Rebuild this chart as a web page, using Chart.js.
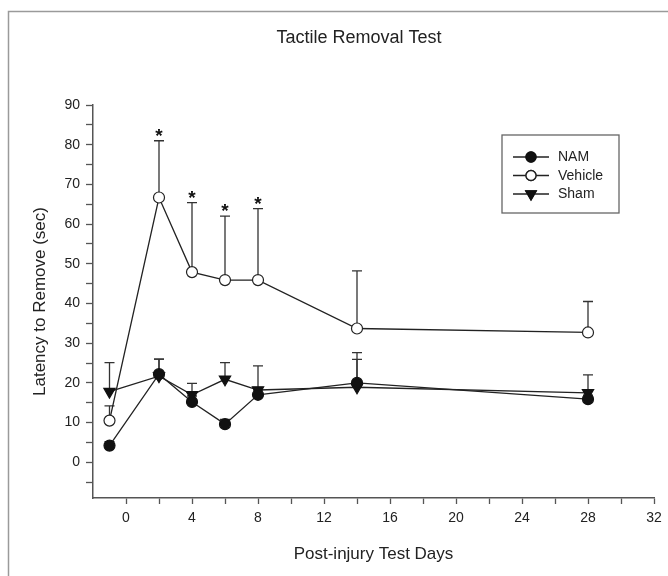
<!DOCTYPE html>
<html>
<head>
<meta charset="utf-8">
<script src="https://cdn.jsdelivr.net/npm/chart.js@4.4.1/dist/chart.umd.min.js"></script>
<style>
  html, body { margin: 0; padding: 0; background: #fff; }
</style>
</head>
<body>
<canvas id="chart" width="668" height="576"></canvas>
<script>
// Datos
const days = [-1, 2, 4, 6, 8, 14, 28];
const namMean = [4.2, 22.2, 15.2, 9.6, 17.0, 20.0, 15.9];
const namErr = [1.0, 3.8, 1.5, 1.2, 1.2, 7.6, 1.0];
const vehicleMean = [10.5, 66.7, 47.9, 45.9, 45.9, 33.7, 32.7];
const vehicleErr = [3.7, 14.3, 17.5, 16.1, 18.0, 14.5, 7.8];
const shamMean = [17.8, 21.7, 17.0, 20.9, 18.2, 18.9, 17.5];
const shamErr = [7.3, 4.3, 2.9, 4.2, 6.1, 7.0, 4.5];
const starDays = [2, 4, 6, 8]; // significativo (Vehicle)

// Marcas de los ejes (las etiquetas solo en los multiplos)
const xTickValues = [0, 2, 4, 6, 8, 10, 12, 14, 16, 18, 20, 22, 24, 26, 28, 30, 32];
const yTickValues = [-5, 0, 5, 10, 15, 20, 25, 30, 35, 40, 45, 50, 55, 60, 65, 70, 75, 80, 85, 90];

const FONT = '"Liberation Sans", Arial, sans-serif';
const INK = '#222';

function toPoints(values) {
    return days.map((d, i) => ({ x: d, y: values[i] }));
}

const errorSets = [namErr, vehicleErr, shamErr];

// Barras de error (solo hacia arriba) y asteriscos
const errorBarPlugin = {
    id: 'errorBars',
    beforeDatasetsDraw(chart) {
        const { ctx, scales: { x, y } } = chart;
        ctx.save();
        ctx.strokeStyle = '#333';
        ctx.lineWidth = 1.3;
        chart.data.datasets.forEach((ds, di) => {
            const errs = errorSets[di];
            ds.data.forEach((p, i) => {
                const px = x.getPixelForValue(p.x);
                const y0 = y.getPixelForValue(p.y);
                const y1 = y.getPixelForValue(p.y + errs[i]);
                ctx.beginPath();
                ctx.moveTo(px, y0);
                ctx.lineTo(px, y1);
                ctx.moveTo(px - 5, y1);
                ctx.lineTo(px + 5, y1);
                ctx.stroke();
            });
        });
        // asteriscos sobre Vehicle
        ctx.fillStyle = '#111';
        ctx.font = 'bold 19px ' + FONT;
        ctx.textAlign = 'center';
        ctx.textBaseline = 'middle';
        starDays.forEach(d => {
            const i = days.indexOf(d);
            const px = x.getPixelForValue(d);
            const py = y.getPixelForValue(vehicleMean[i] + vehicleErr[i]);
            ctx.fillText('*', px, py - 4);
        });
        ctx.restore();
    }
};

// Titulo, marco y leyenda dibujados a mano
const decorPlugin = {
    id: 'decor',
    afterDraw(chart) {
        const { ctx } = chart;
        ctx.save();
        // marco gris (izquierda y arriba)
        ctx.strokeStyle = '#9a9a9a';
        ctx.lineWidth = 1.5;
        ctx.beginPath();
        ctx.moveTo(8.5, 576);
        ctx.lineTo(8.5, 11.5);
        ctx.lineTo(668, 11.5);
        ctx.stroke();

        // titulo
        ctx.fillStyle = INK;
        ctx.font = '18px ' + FONT;
        ctx.textAlign = 'center';
        ctx.textBaseline = 'middle';
        ctx.fillText('Tactile Removal Test', 359, 38);

        // leyenda
        ctx.strokeStyle = '#666';
        ctx.lineWidth = 1.3;
        ctx.strokeRect(502, 135, 117, 78);
        const rowsY = [157, 175.5, 194];
        chart.data.datasets.forEach((ds, i) => {
            const yy = rowsY[i];
            ctx.strokeStyle = ds.borderColor;
            ctx.lineWidth = 1.3;
            ctx.beginPath();
            ctx.moveTo(513, yy);
            ctx.lineTo(549, yy);
            ctx.stroke();
            Chart.helpers.drawPoint(ctx, {
                pointStyle: ds.pointStyle,
                radius: ds.pointRadius - 0.5,
                rotation: ds.pointRotation || 0,
                borderWidth: 1.2
            }, 531, yy);
            ctx.fillStyle = ds.pointBackgroundColor;
            ctx.strokeStyle = ds.pointBorderColor;
            ctx.fill();
            ctx.stroke();
            ctx.fillStyle = INK;
            ctx.font = '14px ' + FONT;
            ctx.textAlign = 'left';
            ctx.fillText(ds.label, 558, yy + 0.5);
        });
        ctx.restore();
    }
};

const ctx = document.getElementById('chart').getContext('2d');
const chart = new Chart(ctx, {
    type: 'line',
    data: {
        datasets: [
            {
                label: 'NAM',
                data: toPoints(namMean),
                borderColor: INK,
                borderWidth: 1.3,
                pointStyle: 'circle',
                pointRadius: 5.5,
                pointBackgroundColor: '#111',
                pointBorderColor: '#111',
                pointBorderWidth: 1.2
            },
            {
                label: 'Vehicle',
                data: toPoints(vehicleMean),
                borderColor: INK,
                borderWidth: 1.3,
                pointStyle: 'circle',
                pointRadius: 5.5,
                pointBackgroundColor: '#fff',
                pointBorderColor: INK,
                pointBorderWidth: 1.2
            },
            {
                label: 'Sham',
                data: toPoints(shamMean),
                borderColor: INK,
                borderWidth: 1.3,
                pointStyle: 'triangle',
                pointRotation: 180,
                pointRadius: 6.5,
                pointBackgroundColor: '#111',
                pointBorderColor: '#111',
                pointBorderWidth: 1.2
            }
        ]
    },
    options: {
        responsive: false,
        animation: false,
        layout: {
            padding: { left: 26, top: 105, right: 14, bottom: 7 }
        },
        scales: {
            x: {
                type: 'linear',
                min: -2,
                max: 32,
                bounds: 'data',
                afterBuildTicks(s) { s.ticks = xTickValues.map(v => ({ value: v })); },
                afterFit(s) { s.height = 71; s.paddingLeft = 0; s.paddingRight = 0; },
                ticks: {
                    autoSkip: false,
                    maxRotation: 0,
                    padding: 6,
                    color: INK,
                    font: { family: FONT, size: 14 },
                    callback: v => (v % 4 === 0 ? v : '')
                },
                grid: { drawOnChartArea: false, tickLength: 6, tickColor: '#555', tickWidth: 1.3 },
                border: { color: '#555', width: 1.5 },
                title: {
                    display: true,
                    text: 'Post-injury Test Days',
                    color: INK,
                    font: { family: FONT, size: 17 },
                    padding: { top: 4, bottom: 4 }
                }
            },
            y: {
                min: -9,
                max: 90,
                bounds: 'data',
                afterBuildTicks(s) { s.ticks = yTickValues.map(v => ({ value: v })); },
                afterFit(s) { s.width = 67; s.paddingTop = 0; s.paddingBottom = 0; },
                ticks: {
                    autoSkip: false,
                    padding: 6,
                    color: INK,
                    font: { family: FONT, size: 14 },
                    callback: v => (v % 10 === 0 ? v : '')
                },
                grid: { drawOnChartArea: false, tickLength: 7, tickColor: '#555', tickWidth: 1.3 },
                border: { color: '#555', width: 1.5 },
                title: {
                    display: true,
                    text: 'Latency to Remove (sec)',
                    color: INK,
                    font: { family: FONT, size: 17 },
                    padding: { top: 4, bottom: 4 }
                }
            }
        },
        plugins: {
            legend: { display: false },
            title: { display: false },
            tooltip: { enabled: false }
        }
    },
    plugins: [errorBarPlugin, decorPlugin]
});
</script>
</body>
</html>
